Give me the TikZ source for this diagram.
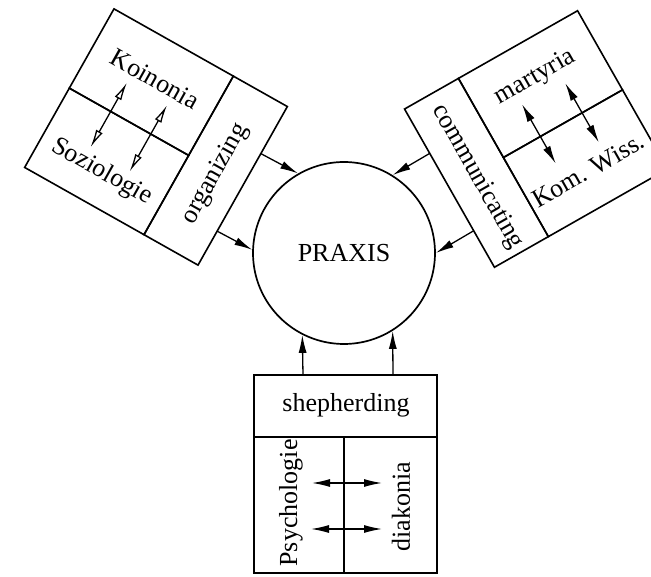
\documentclass[tikz,border=0pt]{standalone}
\usepackage{fontspec}
\setmainfont{Liberation Serif}
\usetikzlibrary{arrows.meta}
\begin{document}
\begin{tikzpicture}[x=1pt,y=1pt,
  cell/.style={draw, rectangle, line width=1.6pt, inner sep=0pt, outer sep=0pt},
  lbl/.style={inner sep=0pt, font=\fontsize{26}{30}\selectfont},
  dbl/.style={line width=1.3pt, {Latex[open,length=18pt,width=7.5pt]}-{Latex[open,length=18pt,width=7.5pt]}},
  dblf/.style={line width=1.3pt, {Latex[length=18pt,width=8pt]}-{Latex[length=18pt,width=8pt]}},
  toarr/.style={line width=1.3pt, -{Latex[length=18pt,width=8pt]}}]
\useasboundingbox (0,0) rectangle (651,576);
\clip (0,0) rectangle (651,576);

% centre
\node[circle, draw, line width=1.7pt, minimum size=182pt, inner sep=0pt,
      font=\fontsize{26}{30}\selectfont] (praxis) at (344,323) {PRAXIS};

% left box
\begin{scope}[shift={(156,439)}, rotate=-29.4, transform shape]
  \node[cell, minimum width=137pt, minimum height=91pt] (koicell) at (-31,45.5) {};
  \node[cell, minimum width=137pt, minimum height=91pt] (sozcell) at (-31,-45.5) {};
  \node[cell, minimum width=62pt, minimum height=182pt] (orgcell) at (68.5,0) {};
  \node[lbl] (koi) at (-29,50) {Koinonia};
  \node[lbl] (soz) at (-30,-57) {Soziologie};
  \node[lbl, rotate=90] (org) at (70,-3) {organizing};
  \coordinate (ka1) at (-52,-41); \coordinate (kb1) at (-52,33);
  \coordinate (ka2) at (-6,-43);  \coordinate (kb2) at (-6,33);
  \coordinate (os1) at (99.5,37); \coordinate (os2) at (99.5,-52);
\end{scope}
\draw[dbl] (ka1) -- (kb1);
\draw[dbl] (ka2) -- (kb2);
\draw[toarr] (os1) -- (praxis.120.4);
\draw[toarr] (os2) -- (praxis.178.9);

% right box
\begin{scope}[shift={(536,437)}, rotate=29.6, transform shape]
  \node[cell, minimum width=62pt, minimum height=182pt] (comcell) at (-68.5,0) {};
  \node[cell, minimum width=137pt, minimum height=91pt] (marcell) at (31,45.5) {};
  \node[cell, minimum width=137pt, minimum height=91pt] (komcell) at (31,-45.5) {};
  \node[lbl] (mar) at (30,54) {martyria};
  \node[lbl] (kom) at (30,-53) {Kom. Wiss.};
  \node[lbl, rotate=-90] (com) at (-70,-4) {communicating};
  \coordinate (ma1) at (5,-31);  \coordinate (mb1) at (5,37);
  \coordinate (ma2) at (53,-34); \coordinate (mb2) at (53,34);
  \coordinate (cs1) at (-99.5,40); \coordinate (cs2) at (-99.5,-49);
\end{scope}
\draw[dblf] (ma1) -- (mb1);
\draw[dblf] (ma2) -- (mb2);
\draw[toarr] (cs1) -- (praxis.58.8);
\draw[toarr] (cs2) -- (praxis.0.2);

% bottom box
\node[cell, minimum width=183pt, minimum height=62pt] (shepcell) at (345.5,170) {};
\node[cell, minimum width=90pt, minimum height=136pt] (psycell) at (299,71) {};
\node[cell, minimum width=93pt, minimum height=136pt] (diacell) at (390.5,71) {};
\node[lbl] (shep) at (346,171) {shepherding};
\node[lbl, rotate=90] (psy) at (291,73) {Psychologie};
\node[lbl, rotate=90] (dia) at (401,69) {diakonia};
\coordinate (pa1) at (312,93); \coordinate (pb1) at (382,93);
\coordinate (pa2) at (311,47); \coordinate (pb2) at (382,47);
\draw[dblf] (pa1) -- (pb1);
\draw[dblf] (pa2) -- (pb2);
\coordinate (bs1) at (303,201); \coordinate (bs2) at (393,201);
\draw[toarr] (bs1) -- (praxis.243.2);
\draw[toarr] (bs2) -- (praxis.302.6);
\end{tikzpicture}
\end{document}
